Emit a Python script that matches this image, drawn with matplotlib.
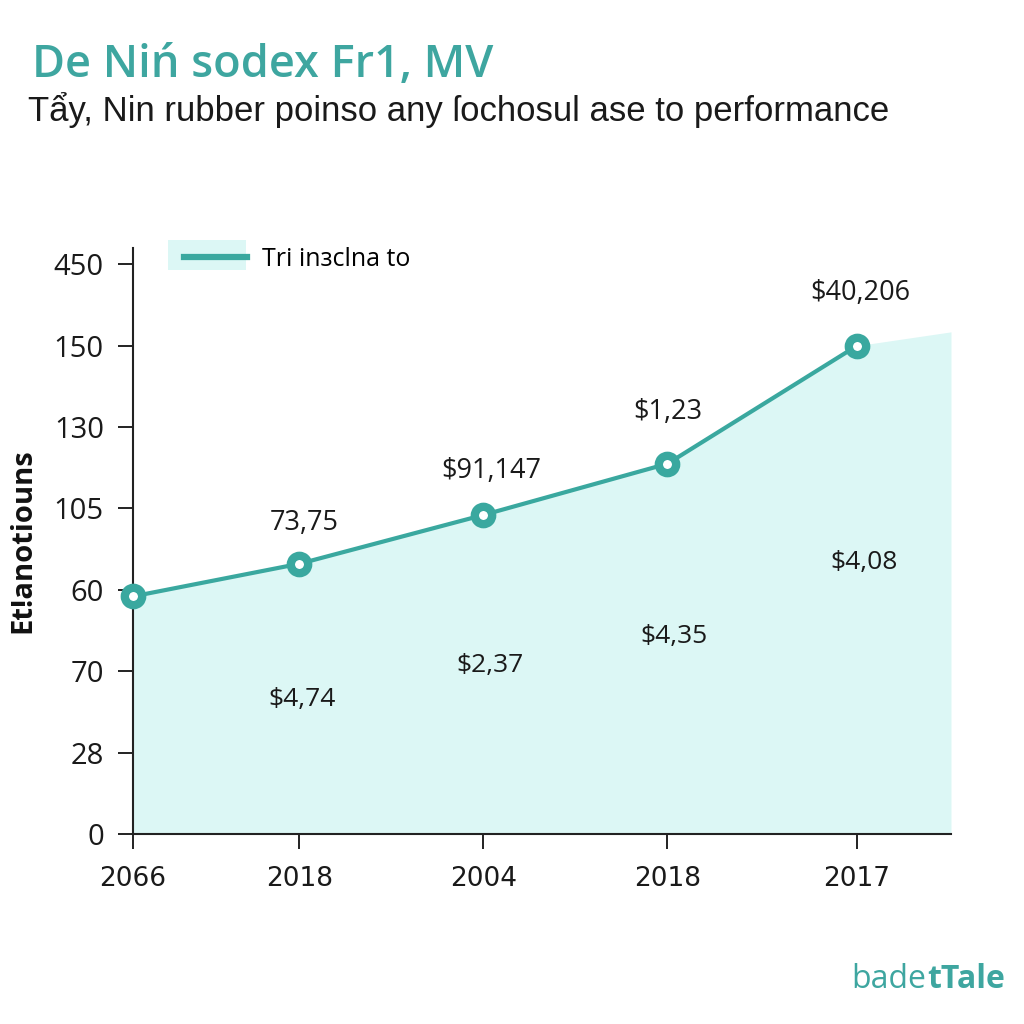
import matplotlib.pyplot as plt
from matplotlib.lines import Line2D
from matplotlib.patches import Rectangle

# values (y is on the category-style axis, tick index units)
years = ['2066', '2018', '2004', '2018', '2017']
year_pos = [0, 0.92, 1.94, 2.96, 4.01]
line_vals = [2.92, 3.32, 3.92, 4.55, 6.0]
fill_end = 6.17  # shaded area keeps rising to the right edge
y_labels = ['0', '28', '70', '60', '105', '130', '150', '450']
top_labels = ['73,75', '$91,147', '$1,23', '$40,206']
low_labels = ['$4,74', '$2,37', '$4,35', '$4,08']

teal = '#3aa89f'
fill_col = '#dcf7f5'

fig = plt.figure(figsize=(10.24, 10.24), dpi=100)
ax = fig.add_axes([0.1299, 0.1855, 0.7988, 0.5723])

x_right = 4.53
ax.fill_between(year_pos + [x_right], line_vals + [fill_end], 0, color=fill_col, lw=0, zorder=1)
ax.plot(year_pos, line_vals, color=teal, lw=3, zorder=3)
ax.plot(year_pos, line_vals, ls='none', marker='o', ms=12.5, mew=6,
        mec=teal, mfc='white', zorder=4, clip_on=False)

# data labels above the points (skip the first one) and inside the area (offsets in px)
top_off = [(5, 41), (8, 44), (0, 52), (3, 53)]
for x, y, t, (dx, dy) in zip(year_pos[1:], line_vals[1:], top_labels, top_off):
    ax.annotate(t, (x, y), xytext=(dx * 0.72, dy * 0.72), textcoords='offset points',
                ha='center', va='center', fontsize=19.5, color='#1a1a1a', family='Open Sans')
low_off = [(3, -136), (7, -151), (7, -173), (7, -217)]
for x, y, t, (dx, dy) in zip(year_pos[1:], line_vals[1:], low_labels, low_off):
    ax.annotate(t, (x, y), xytext=(dx * 0.72, dy * 0.72), textcoords='offset points',
                ha='center', va='center', fontsize=19, color='#1a1a1a', family='Open Sans')

ax.set_xlim(0, x_right)
ax.set_ylim(0, 7.2)
ax.set_xticks(year_pos)
ax.set_xticklabels(years, fontsize=19, color='#1a1a1a')
ax.set_yticks(range(len(y_labels)))
ax.set_yticklabels(y_labels, fontsize=21, family='Open Sans', color='#1a1a1a')
ax.tick_params(axis='x', length=11, width=1.4, color='#222222', pad=12)
ax.tick_params(axis='y', length=11, width=1.4, color='#222222', pad=10)
for s in ['top', 'right']:
    ax.spines[s].set_visible(False)
for s in ['left', 'bottom']:
    ax.spines[s].set_linewidth(1.5)
    ax.spines[s].set_color('#222222')
ax.set_ylabel('Et!anotiouns', fontsize=21, fontweight='bold', family='Open Sans',
              color='#111111', labelpad=12)

# pale box behind the legend handle
ax.add_patch(Rectangle((0.043, 0.963), 0.095, 0.05, transform=ax.transAxes,
                       color='#dcf7f5', lw=0, clip_on=False, zorder=0))
handle = Line2D([], [], color=teal, lw=4.5)
leg = ax.legend([handle], ['Tri inзclna to'], loc='upper left', bbox_to_anchor=(0.035, 1.04),
                frameon=False, handlelength=2.5, handletextpad=0.6,
                prop={'family': 'Open Sans', 'size': 18})

fig.text(0.031, 0.925, 'De Niń sodex Fr1, MV', fontsize=32.5, color='#3ea6a0',
         family='Open Sans', fontweight='semibold', va='baseline')
fig.text(0.027, 0.882, 'Tẩy, Nin rubber poinso any ſochosul ase to performance', fontsize=25,
         color='#1a1a1a', family='Liberation Sans', va='baseline')
fig.text(0.904, 0.035, 'bade', fontsize=23, color='#3ea6a0', family='Open Sans',
         va='baseline', ha='right')
fig.text(0.982, 0.035, 'tTale', fontsize=23, color='#3ea6a0', family='Open Sans',
         fontweight='bold', va='baseline', ha='right')

fig.savefig('out.png', dpi=100, facecolor='white')
